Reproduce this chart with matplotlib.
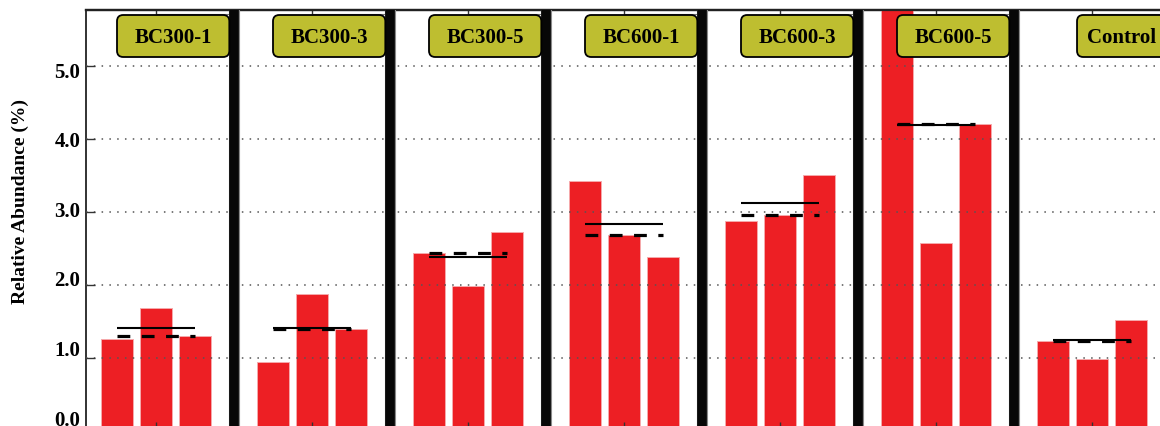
import numpy as np
import matplotlib
matplotlib.use("Agg")
import matplotlib.pyplot as plt
from matplotlib.patches import FancyBboxPatch
from matplotlib.transforms import ScaledTranslation

# Relative abundance (%) of the three replicates for each treatment
groups = ["BC300-1", "BC300-3", "BC300-5", "BC600-1", "BC600-3", "BC600-5", "Control"]
rep1 = [1.26, 0.95, 2.44, 3.43, 2.88, 5.80, 1.23]
rep2 = [1.68, 1.87, 1.99, 2.68, 2.96, 2.57, 0.99]
rep3 = [1.30, 1.40, 2.72, 2.39, 3.51, 4.21, 1.52]
ytick_vals = [0, 1, 2, 3, 4, 5]
ytick_labels = ["0.0", "1.0", "2.0", "3.0", "4.0", "5.0"]

SERIF = "Liberation Serif"
BAR_RED = "#ED1F24"
TAG_OLIVE = "#BEBE30"

W, H, DPI = 11.6, 4.27, 100
fig = plt.figure(figsize=(W, H), dpi=DPI)
ax = fig.add_axes([86 / 1160, -5 / 427, (1170 - 86) / 1160, (432 - 11) / 427])

n = len(groups)
x = np.arange(n)
reps = np.array([rep1, rep2, rep3]).T  # shape (groups, replicates)
offsets = [-0.25, 0.0, 0.25]
bar_w = 0.205

for k, off in enumerate(offsets):
    ax.bar(x + off, reps[:, k], width=bar_w, color=BAR_RED,
           edgecolor="#F6A9AB", linewidth=0.7, zorder=1)

# mean (solid) and median (dashed) of each group
for i in range(n):
    vals = reps[i]
    ax.plot([i - 0.25, i + 0.25], [np.mean(vals)] * 2, color="black",
            lw=1.5, solid_capstyle="butt", zorder=4)
    ax.plot([i - 0.25, i + 0.25], [np.median(vals)] * 2, color="black",
            lw=2.3, linestyle=(0, (4.0, 3.6)), dash_capstyle="butt", zorder=5)

ax.set_xlim(-70 / 156, (1170 - 156) / 156)
ymax = 421 / 73
ax.set_ylim(0, ymax)

# thick separators between panels
for i in range(n - 1):
    ax.axvline(i + 0.5, color="#8a8a8a", lw=8.0, zorder=3)
    ax.axvline(i + 0.5, color="#070707", lw=7.0, zorder=3.1)

# thin rule under the top spine, from each panel centre to its separator
for i in range(n):
    right = i + 0.475 if i < n - 1 else ax.get_xlim()[1]
    ax.plot([i, right], [ymax - 0.048] * 2, color="#707070", lw=0.8, zorder=2)

# group tags
box_h_top, box_h_bot = (432 - 16) / 73, (432 - 58) / 73
aspect = 156 / 73
for i, name in enumerate(groups):
    if i < n - 1:
        left, right = i - 0.25, i + 0.47
        tx, ha = (left + right) / 2, "center"
    else:
        left, right = i - 0.096, i + 0.75
        tx, ha = i - 0.032, "left"
    box = FancyBboxPatch((left, box_h_bot), right - left, box_h_top - box_h_bot,
                         boxstyle="round,pad=0,rounding_size=0.04",
                         mutation_aspect=aspect, facecolor=TAG_OLIVE,
                         edgecolor="black", lw=1.3, zorder=6, clip_on=False)
    ax.add_patch(box)
    ax.text(tx, (432 - 43) / 73, name, ha=ha, va="baseline",
            fontsize=15, fontweight="bold", family=SERIF, zorder=7)

# axes styling
ax.set_yticks(ytick_vals)
ax.set_yticklabels(ytick_labels, fontsize=15, fontweight="bold", family=SERIF)
ax.set_xticks(x)
ax.set_xticklabels([])
ax.tick_params(axis="y", direction="in", length=6.5, width=1.0, pad=4,
               left=True, right=False, color="#333333")
ax.tick_params(axis="x", direction="in", length=6.5, width=1.0,
               bottom=True, top=False, color="#333333")
ax.set_axisbelow(False)
ax.yaxis.grid(True, linestyle=(0, (1, 4.1)), color="#555555", lw=1.1)
ax.xaxis.grid(False)

# tick labels sit on a slightly tighter pitch than the ticks
for lab, v in zip(ax.get_yticklabels(), ytick_vals):
    shift_px = (4.1 - v) * 3.4
    lab.set_transform(lab.get_transform() +
                      ScaledTranslation(0, shift_px / DPI, fig.dpi_scale_trans))

top = ax.secondary_xaxis("top")
top.set_xticks(x)
top.set_xticklabels([])
top.tick_params(direction="in", length=3, width=1.0, color="#333333")
top.spines["top"].set_linewidth(1.6)
top.spines["top"].set_color("#222222")

ax.spines["left"].set_linewidth(1.3)
ax.spines["left"].set_color("#222222")
ax.spines["top"].set_linewidth(1.6)
ax.spines["top"].set_color("#222222")
ax.spines["right"].set_visible(False)

fig.text(20 / 1160, 1 - 201 / 427, "Relative Abundance (%)", rotation=90,
         ha="center", va="center", fontsize=14, fontweight="bold", family=SERIF)

fig.savefig("out.png", dpi=DPI)
